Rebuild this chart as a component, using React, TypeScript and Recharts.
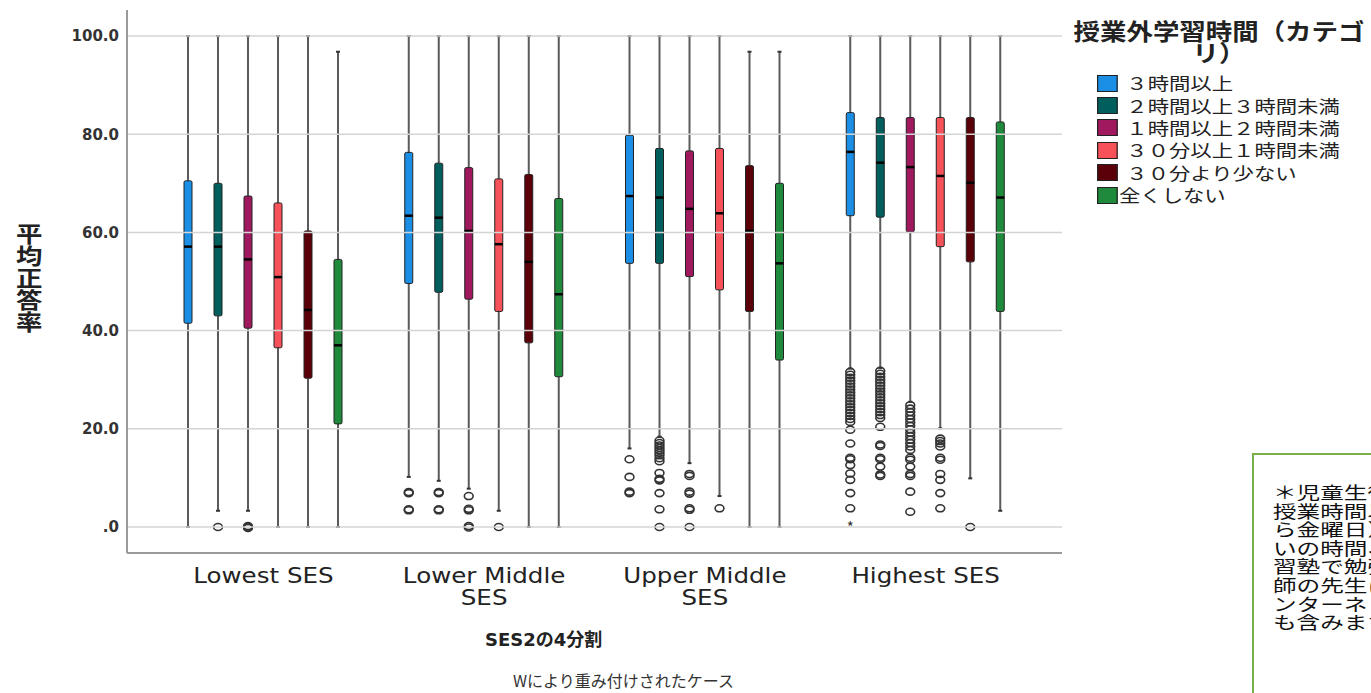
import React from "react";
import { ComposedChart, Bar, XAxis, YAxis, ReferenceLine } from "recharts";

const categories = ["Lowest SES", "Lower Middle\nSES", "Upper Middle\nSES", "Highest SES"];

const seriesNames = [
  "３時間以上",
  "２時間以上３時間未満",
  "１時間以上２時間未満",
  "３０分以上１時間未満",
  "３０分より少ない",
  "全くしない",
];

const seriesColors = ["#1b8fe6", "#005f5c", "#a0195e", "#f7525a", "#5b0008", "#1f8a3b"];

const yTicks = [0, 20, 40, 60, 80, 100];

// rows: series (same order as seriesNames), columns: SES quartile
const whiskerLow = [
  [0, 10.2, 16.0, 32.3],
  [3.3, 9.4, 18.4, 32.4],
  [3.3, 7.8, 13.0, 25.5],
  [0, 3.3, 6.3, 20.1],
  [0, 0, 0, 9.9],
  [0, 0, 0, 3.3],
];
const q1 = [
  [41.5, 49.6, 53.7, 63.4],
  [43.0, 47.8, 53.7, 63.1],
  [40.5, 46.4, 51.0, 60.1],
  [36.5, 43.9, 48.3, 57.1],
  [30.3, 37.5, 43.9, 54.0],
  [21.0, 30.6, 34.0, 43.9],
];
const median = [
  [57.1, 63.4, 67.4, 76.4],
  [57.1, 63.0, 67.1, 74.2],
  [54.5, 60.3, 64.8, 73.3],
  [50.9, 57.6, 63.9, 71.5],
  [44.2, 54.0, 60.3, 70.1],
  [37.0, 47.4, 53.7, 67.1],
];
const q3 = [
  [70.5, 76.3, 79.8, 84.4],
  [70.0, 74.1, 77.1, 83.4],
  [67.4, 73.2, 76.6, 83.4],
  [66.0, 70.9, 77.1, 83.4],
  [60.3, 71.8, 73.6, 83.4],
  [54.5, 66.9, 70.0, 82.5],
];
const whiskerHigh = [
  [100, 100, 100, 100],
  [100, 100, 100, 100],
  [100, 100, 100, 100],
  [100, 100, 100, 100],
  [100, 100, 96.8, 100],
  [96.8, 100, 96.8, 100],
];

const outliers = [
  [
    [],
    [7.1, 6.9, 3.6, 3.4],
    [13.8, 10.2, 7.2, 6.9],
    [31.6, 31.0, 30.4, 29.8, 29.2, 28.6, 28.0, 27.4, 26.8, 26.2, 25.6, 25.0, 24.4, 23.8, 23.2, 22.6, 22.0, 21.4, 19.8, 17.0, 14.1, 13.8, 12.6, 10.9, 9.6, 6.9, 3.8],
  ],
  [
    [0],
    [7.1, 6.9, 3.6, 3.4],
    [17.6, 17.1, 16.6, 16.1, 15.6, 15.1, 14.6, 14.0, 13.4, 11.0, 9.8, 9.5, 6.9, 3.6, 0],
    [31.8, 31.2, 30.6, 30.0, 29.4, 28.8, 28.2, 27.6, 27.0, 26.4, 25.8, 25.2, 24.6, 24.0, 23.4, 22.8, 22.2, 20.4, 16.8, 16.5, 14.1, 13.8, 12.3, 10.7, 10.4],
  ],
  [
    [0.2, 0, -0.2],
    [6.3, 3.7, 3.4, 0.2, -0.1],
    [10.8, 10.4, 7.2, 6.8, 3.8, 3.5, 0],
    [24.8, 24.1, 23.4, 22.7, 22.0, 21.3, 20.6, 19.9, 19.2, 18.5, 17.8, 17.1, 16.4, 15.7, 14.1, 13.7, 12.3, 10.8, 10.4, 7.2, 3.1],
  ],
  [[], [0], [3.8], [18.0, 17.5, 17.0, 16.4, 14.1, 13.7, 10.8, 9.6, 6.9, 3.8]],
  [[], [], [], [0]],
  [[], [], [], []],
];

const extremes = [
  [[], [], [], [0]],
  [[], [], [], []],
  [[], [], [], []],
  [[], [], [], []],
  [[], [], [], []],
  [[], [], [], []],
];

const noteLines = [
  "＊児童生徒",
  "授業時間以",
  "ら金曜日）",
  "いの時間、",
  "習塾で勉強",
  "師の先生に",
  "ンターネッ",
  "も含みます",
];

const rows = categories.map((name, i) => {
  const row: any = { name, idx: i };
  seriesNames.forEach((_, s) => {
    row[`s${s}`] = [whiskerLow[s][i], whiskerHigh[s][i]];
  });
  return row;
});

const cjk = '"Noto Sans CJK JP", "DejaVu Sans", sans-serif';

function makeBoxShape(s: number) {
  return (props: any) => {
    const { x, y, width, height, payload } = props;
    const i = payload.idx;
    const lo = whiskerLow[s][i];
    const hi = whiskerHigh[s][i];
    const top = Math.min(y, y + height);
    const k = Math.abs(height) / (hi - lo);
    const py = (v: number) => top + (hi - v) * k;
    const cx = x + width / 2;
    const bw = 8;
    return (
      <g>
        <line x1={cx} x2={cx} y1={py(hi)} y2={py(q3[s][i])} stroke="#5a5a5a" strokeWidth={2} />
        <line x1={cx} x2={cx} y1={py(q1[s][i])} y2={py(lo)} stroke="#5a5a5a" strokeWidth={2} />
        <line x1={cx - 2} x2={cx + 2} y1={py(hi)} y2={py(hi)} stroke="#333" strokeWidth={2} />
        <line x1={cx - 2} x2={cx + 2} y1={py(lo)} y2={py(lo)} stroke="#333" strokeWidth={2} />
        <rect
          x={cx - bw / 2}
          y={py(q3[s][i])}
          width={bw}
          height={py(q1[s][i]) - py(q3[s][i])}
          rx={1.5}
          fill={seriesColors[s]}
          stroke="#222"
          strokeWidth={1}
        />
        <line x1={cx - bw / 2} x2={cx + bw / 2} y1={py(median[s][i])} y2={py(median[s][i])} stroke="#000" strokeWidth={2.5} />
        {outliers[s][i].map((v, j) => (
          <ellipse key={j} cx={cx} cy={py(v)} rx={4.4} ry={3.5} fill="none" stroke="#333" strokeWidth={1.6} />
        ))}
        {extremes[s][i].map((v, j) => (
          <text key={`e${j}`} x={cx} y={py(v) + 6} textAnchor="middle" fontSize={15} fill="#333">
            *
          </text>
        ))}
      </g>
    );
  };
}

const CategoryTick = (props: any) => {
  const { x, y, payload } = props;
  const lines = String(payload.value).split("\n");
  return (
    <g transform={`translate(${x},${y}) scale(1.17,1)`}>
      <text textAnchor="middle" fontSize={21} fill="#222" fontFamily="DejaVu Sans">
        {lines.map((l, j) => (
          <tspan key={j} x={0} y={22 + j * 22}>
            {l}
          </tspan>
        ))}
      </text>
    </g>
  );
};

const fmtY = (v: number) => (v === 0 ? ".0" : `${v}.0`);

export default function App() {
  return (
    <div
      style={{
        position: "absolute",
        left: 0,
        top: 0,
        width: 1371,
        height: 693,
        overflow: "hidden",
        background: "#fff",
        fontFamily: cjk,
      }}
    >
      <div style={{ position: "absolute", left: 0, top: -30 }}>
        <ComposedChart
          width={1065}
          height={650}
          data={rows}
          margin={{ top: 40, right: 3, left: 0, bottom: 0 }}
          barGap={0}
          barSize={30}
        >
          <XAxis
            dataKey="name"
            type="category"
            padding={{ left: 26, right: 26 }}
            height={67}
            interval={0}
            tickLine={false}
            axisLine={{ stroke: "#9a9a9a", strokeWidth: 2 }}
            tick={<CategoryTick />}
          />
          <YAxis
            type="number"
            domain={[-5.3, 105.3]}
            ticks={yTicks}
            allowDataOverflow
            width={127}
            tickLine={false}
            axisLine={{ stroke: "#9a9a9a", strokeWidth: 2 }}
            tickFormatter={fmtY}
            tick={{ fontSize: 15, fontWeight: 700, fill: "#333", fontFamily: "DejaVu Sans" }}
          />
          {yTicks.map((t) => (
            <ReferenceLine key={t} y={t} stroke="#d4d4d4" strokeWidth={1.5} />
          ))}
          {seriesNames.map((n, s) => (
            <Bar key={n} dataKey={`s${s}`} isAnimationActive={false} shape={makeBoxShape(s)} />
          ))}
        </ComposedChart>
      </div>

      <div
        style={{
          position: "absolute",
          left: 15,
          top: 223,
          width: 27,
          lineHeight: "27px",
          writingMode: "vertical-rl",
          textOrientation: "upright",
          fontSize: 22,
          fontWeight: 700,
          color: "#222",
          transform: "scaleX(1.2)",
        }}
      >
        平均正答率
      </div>

      <div
        style={{
          position: "absolute",
          left: 485,
          top: 630,
          fontSize: 18,
          lineHeight: "20px",
          fontWeight: 700,
          color: "#222",
          fontFamily: '"DejaVu Sans", "Noto Sans CJK JP", sans-serif',
          whiteSpace: "nowrap",
        }}
      >
        SES2の4分割
      </div>

      <div
        style={{
          position: "absolute",
          left: 513,
          top: 670,
          fontSize: 16,
          lineHeight: "20px",
          color: "#333",
          whiteSpace: "nowrap",
        }}
      >
        Wにより重み付けされたケース
      </div>

      <div
        style={{
          position: "absolute",
          left: 1089,
          top: 19,
          width: 260,
          textAlign: "center",
          fontSize: 23,
          lineHeight: "22px",
          fontWeight: 700,
          color: "#222",
          whiteSpace: "pre",
          transform: "scaleX(1.15)",
          transformOrigin: "center top",
        }}
      >
        {"授業外学習時間（カテゴ\nリ）"}
      </div>

      <div
        style={{
          position: "absolute",
          left: 1097,
          top: 72,
          transform: "scaleX(1.22)",
          transformOrigin: "left top",
        }}
      >
        {seriesNames.map((n, s) => (
          <div key={n} style={{ display: "flex", alignItems: "center", height: 22.4 }}>
            <div
              style={{
                width: 15,
                height: 15,
                background: seriesColors[s],
                border: "1px solid #222",
                marginRight: s === seriesNames.length - 1 ? 1 : 7,
              }}
            />
            <span style={{ fontSize: 17.5, color: "#222", whiteSpace: "nowrap", lineHeight: "20px" }}>{n}</span>
          </div>
        ))}
      </div>

      <div
        style={{
          position: "absolute",
          left: 1252,
          top: 453,
          width: 200,
          height: 300,
          border: "2px solid #79b04a",
        }}
      />
      <div
        style={{
          position: "absolute",
          left: 1273,
          top: 483,
          fontSize: 17.5,
          lineHeight: "18.6px",
          color: "#111",
          whiteSpace: "pre",
          transform: "scaleX(1.35)",
          transformOrigin: "left top",
        }}
      >
        {noteLines.join("\n")}
      </div>
    </div>
  );
}
